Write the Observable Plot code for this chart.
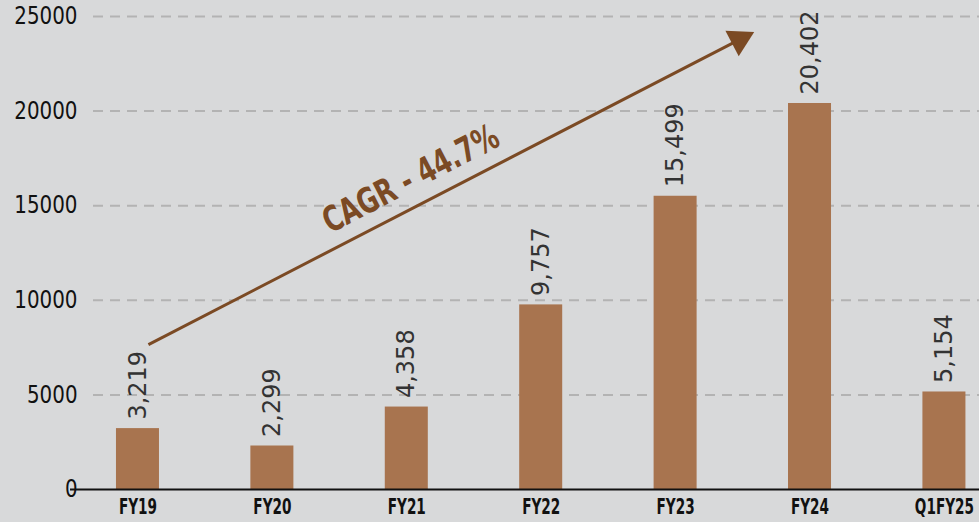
<!DOCTYPE html>
<html>
<head>
<meta charset="utf-8">
<script src="https://cdn.jsdelivr.net/npm/d3@7"></script>
<script src="https://cdn.jsdelivr.net/npm/@observablehq/plot@0.6"></script>
<style>
  html, body { margin: 0; padding: 0; background: #d8d9da; }
  #chart svg { display: block; background: #d8d9da; }
</style>
</head>
<body>
<div id="chart"></div>
<script>
const categories = ["FY19", "FY20", "FY21", "FY22", "FY23", "FY24", "Q1FY25"];
const values = [3219, 2299, 4358, 9757, 15499, 20402, 5154];
const yTicks = [0, 5000, 10000, 15000, 20000, 25000];
const cagrLabel = "CAGR - 44.7%";
// annotation arrow endpoints (category index, value units)
const arrowStart = {i: 0.078, v: 7660};
const arrowEnd = {i: 4.475, v: 23780};
const cagrPos = {i: 2.03, v: 16400};

const data = categories.map((c, i) => ({i, c, v: values[i]}));
const barHalf = 0.16;
const brown = "#7b4a24";
const condFont = "'DejaVu Sans Condensed', 'Liberation Sans Narrow', 'Roboto Condensed', sans-serif";

const chart = Plot.plot({
  width: 979,
  height: 522,
  marginLeft: 70,
  marginRight: 0,
  marginTop: 16,
  marginBottom: 33,
  style: {background: "#d8d9da"},
  x: {type: "linear", domain: [-0.502, 6.261], axis: null},
  y: {domain: [0, 25000], axis: null},
  marks: [
    Plot.ruleY(yTicks.slice(1), {stroke: "#b3b3b3", strokeWidth: 2, strokeDasharray: "10,7", insetLeft: 23}),
    Plot.rectY(data, {x1: d => d.i - barHalf, x2: d => d.i + barHalf, y: "v", fill: "#a8744f"}),
    Plot.ruleY([0], {stroke: "#111", strokeWidth: 2}),
    Plot.text(yTicks, {x: -0.502, y: d => d, text: d => String(d), textAnchor: "end", dx: 7, fontSize: 24, fontFamily: condFont, fill: "#111"}),
    Plot.text(data, {x: "i", y: 0, text: "c", dy: 18, fontSize: 21, fontWeight: "bold", fontFamily: condFont, fill: "#111"}),
    Plot.text(data, {x: "i", y: "v", text: d => d3.format(",")(d.v), rotate: -90, textAnchor: "start", dy: -9, fontSize: 24, fontFamily: "DejaVu Sans", fill: "#333"}),
    Plot.link([{}], {x1: () => arrowStart.i, y1: () => arrowStart.v, x2: () => arrowEnd.i, y2: () => arrowEnd.v, stroke: brown, strokeWidth: 3}),
    Plot.dot([arrowEnd], {x: "i", y: "v", symbol: "triangle", r: 10.7, fill: brown, stroke: "none", rotate: 62.5}),
    Plot.text([cagrPos], {x: "i", y: "v", text: () => cagrLabel, rotate: -27.5, fontSize: 35, fontWeight: "bold", fontFamily: condFont, fill: brown})
  ]
});
document.getElementById("chart").append(chart);
// narrow the condensed labels to match the reference's compressed typeface
function squeeze(strings, ratio) {
  const set = new Set(strings);
  chart.querySelectorAll("text").forEach(t => {
    if (!set.has(t.textContent)) return;
    const w = t.getComputedTextLength();
    if (w > 0) {
      t.setAttribute("textLength", (w * ratio).toFixed(1));
      t.setAttribute("lengthAdjust", "spacingAndGlyphs");
    }
  });
}
squeeze(categories, 0.72);
squeeze([cagrLabel], 0.8);
squeeze(yTicks.map(String), 0.92);
</script>
</body>
</html>
